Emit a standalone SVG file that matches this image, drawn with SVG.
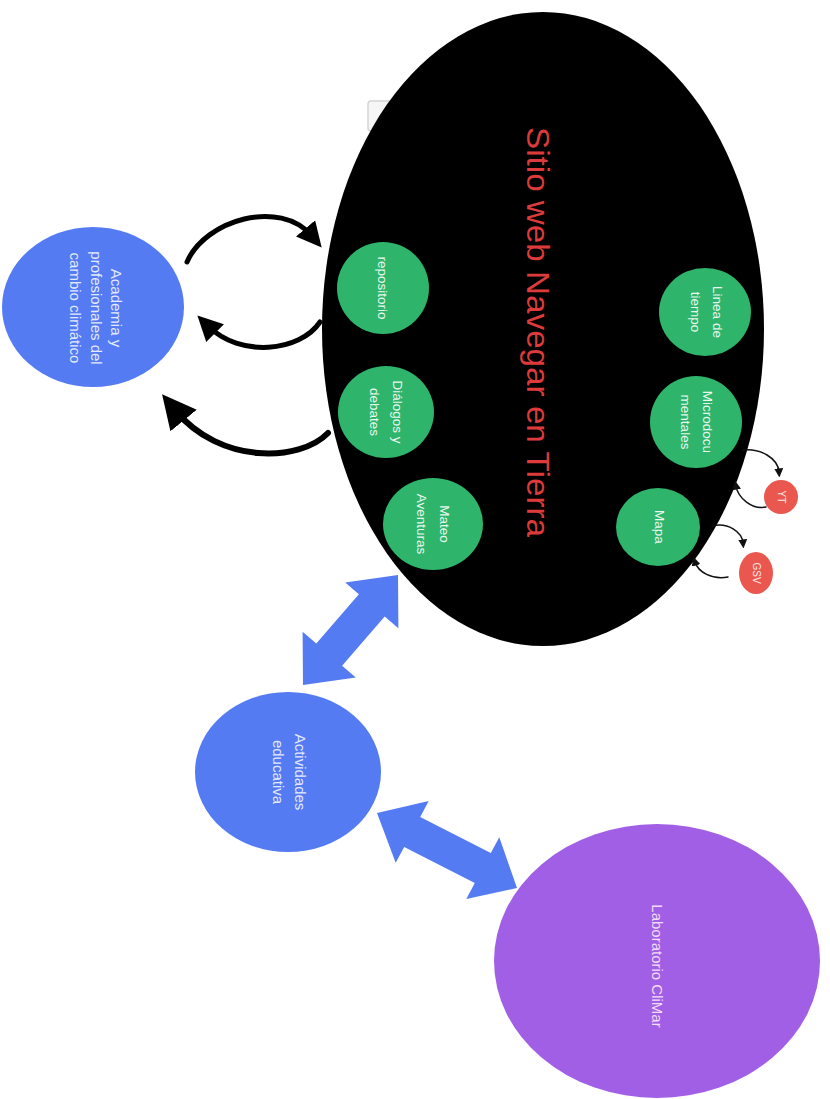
<svg xmlns="http://www.w3.org/2000/svg" width="830" height="1099" viewBox="0 0 830 1099">
<style>
text{font-family:"Liberation Sans",Arial,sans-serif;}
.g{fill:#2eb46b;}
.b{fill:#557bf3;}
.r{fill:#e9574f;}
.gt{fill:#eaf7ee;font-size:13.5px;text-anchor:middle;}
.bt{fill:#e4eafd;font-size:15px;text-anchor:middle;}
.rt{fill:#fde8e6;font-size:10px;text-anchor:middle;}
.k{fill:none;stroke:#000;stroke-linecap:round;}
.ks{fill:none;stroke:#111;stroke-width:1.5;stroke-linecap:round;}
</style>
<defs>
<marker id="hm" viewBox="0 0 10 10" refX="4" refY="5" markerUnits="userSpaceOnUse" markerWidth="25" markerHeight="25" orient="auto"><path d="M0,0 L10,5 L0,10 z" fill="#000"/></marker>
<marker id="hl" viewBox="0 0 10 10" refX="4" refY="5" markerUnits="userSpaceOnUse" markerWidth="34" markerHeight="34" orient="auto"><path d="M0,0 L10,5 L0,10 z" fill="#000"/></marker>
<marker id="hs" viewBox="0 0 10 10" refX="4" refY="5" markerUnits="userSpaceOnUse" markerWidth="9" markerHeight="9" orient="auto"><path d="M0,0 L10,5 L0,10 z" fill="#111"/></marker>
</defs>
<rect width="830" height="1099" fill="#fff"/>
<rect x="368" y="101" width="30" height="30" rx="3" fill="#f6f6f6" stroke="#d4d4d4" stroke-width="1.5"/>

<g id="sitio">
<ellipse cx="543" cy="329" rx="221" ry="317" fill="#000"/>
<text transform="translate(527,332) rotate(90)" text-anchor="middle" font-size="32" fill="#dd3b3b" textLength="410" lengthAdjust="spacingAndGlyphs">Sitio web Navegar en Tierra</text>
</g>

<g id="linea">
<ellipse class="g" cx="705" cy="312" rx="46" ry="44"/>
<text class="gt" transform="translate(713,312) rotate(90)"><tspan x="0" y="0">Linea de</tspan><tspan x="0" dy="22">tiempo</tspan></text>
</g>
<g id="microdocumentales">
<ellipse class="g" cx="696" cy="422" rx="46" ry="46"/>
<text class="gt" transform="translate(703,422) rotate(90)"><tspan x="0" y="0">Microdocu</tspan><tspan x="0" dy="22">mentales</tspan></text>
</g>
<g id="mapa">
<ellipse class="g" cx="658" cy="527" rx="42" ry="39"/>
<text class="gt" transform="translate(655,527) rotate(90)">Mapa</text>
</g>
<g id="repositorio">
<ellipse class="g" cx="383" cy="288" rx="46" ry="46"/>
<text class="gt" transform="translate(378,288) rotate(90)">repositorio</text>
</g>
<g id="dialogos">
<ellipse class="g" cx="386" cy="412" rx="48" ry="46"/>
<text class="gt" transform="translate(393,412) rotate(90)"><tspan x="0" y="0">Diálogos y</tspan><tspan x="0" dy="23">debates</tspan></text>
</g>
<g id="mateo">
<ellipse class="g" cx="433" cy="524" rx="50" ry="46"/>
<text class="gt" transform="translate(440,524) rotate(90)"><tspan x="0" y="0">Mateo</tspan><tspan x="0" dy="23">Aventuras</tspan></text>
</g>
<g id="yt">
<ellipse class="r" cx="781" cy="497" rx="17" ry="17"/>
<text class="rt" transform="translate(778,497) rotate(90)">YT</text>
</g>
<g id="gsv">
<ellipse class="r" cx="756" cy="573" rx="17" ry="21"/>
<text class="rt" transform="translate(753,573) rotate(90)">GSV</text>
</g>

<g id="academia">
<ellipse class="b" cx="93" cy="307" rx="91" ry="80"/>
<text class="bt" transform="translate(111,308) rotate(90)"><tspan x="0" y="0">Academia y</tspan><tspan x="0" dy="20.5">profesionales del</tspan><tspan x="0" dy="20.5">cambio climático</tspan></text>
</g>
<g id="actividades">
<ellipse class="b" cx="288" cy="772" rx="93" ry="80"/>
<text class="bt" transform="translate(295,772) rotate(90)"><tspan x="0" y="0">Actividades</tspan><tspan x="0" dy="22">educativa</tspan></text>
</g>
<g id="laboratorio">
<ellipse cx="657" cy="961" rx="163" ry="137" fill="#a15fe6"/>
<text transform="translate(652,966) rotate(90)" text-anchor="middle" font-size="15" fill="#f3dcf7">Laboratorio CliMar</text>
</g>

<g id="connectors">
<path class="k" stroke-width="5" d="M187,262 C205,220 280,198 312,236" marker-end="url(#hm)"/>
<path class="k" stroke-width="5" d="M320,322 C300,352 240,358 208,326" marker-end="url(#hm)"/>
<path class="k" stroke-width="6" d="M328,433 C300,462 220,465 175,410" marker-end="url(#hl)"/>
<path class="ks" d="M743,450 C760,448 778,458 779,472" marker-end="url(#hs)"/>
<path class="ks" d="M766,507 C752,510 738,498 736,486" marker-end="url(#hs)"/>
<path class="ks" d="M712,526 C728,522 742,532 743,543" marker-end="url(#hs)"/>
<path class="ks" d="M728,577 C712,580 698,572 695,562" marker-end="url(#hs)"/>
<polygon fill="#557bf3" points="303,685 355.8,677.5 342.1,665.7 384.7,616.5 398.4,628.3 398,575 345.2,582.5 358.9,594.3 316.3,643.5 302.6,631.7"/>
<polygon fill="#557bf3" points="377,813 428.7,801.1 420.2,816.9 490.8,853.1 499.3,837.3 517,888 466.3,898.9 474.8,883.1 404.2,846.9 395.7,862.7"/>
</g>
</svg>
